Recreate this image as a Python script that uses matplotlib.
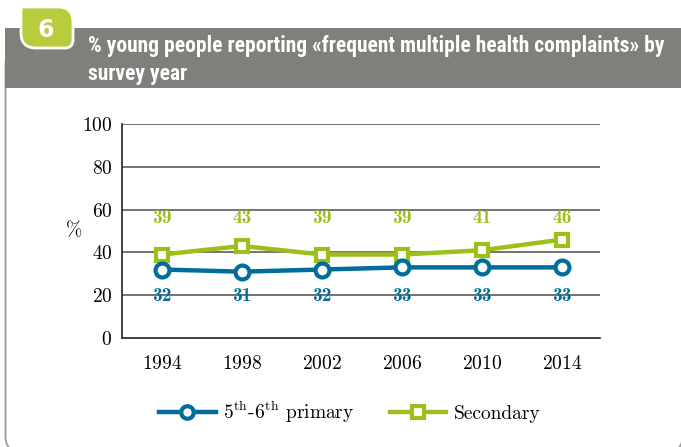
import matplotlib
matplotlib.use("Agg")
import matplotlib.pyplot as plt
from matplotlib.patches import FancyBboxPatch, Rectangle, PathPatch
from matplotlib.path import Path

YEARS = [1994, 1998, 2002, 2006, 2010, 2014]
PRIMARY = [32, 31, 32, 33, 33, 33]
SECONDARY = [39, 43, 39, 39, 41, 46]
Y_TICKS = [0, 20, 40, 60, 80, 100]

BLUE = "#006d9b"
GREEN = "#9cbf1c"
TAB_GREEN = "#b9cc3e"
HEADER = "#7f807b"

plt.rcParams["font.family"] = ["cmr10", "DejaVu Serif"]
plt.rcParams["axes.formatter.use_mathtext"] = True
plt.rcParams["mathtext.fontset"] = "cm"

W, H = 681, 447
fig = plt.figure(figsize=(W / 100, H / 100), dpi=100)

# background layer in pixel units (y down)
bg = fig.add_axes([0, 0, 1, 1], zorder=0)
bg.set_xlim(0, W)
bg.set_ylim(H, 0)
bg.axis("off")

# card body with rounded bottom corners
bg.add_patch(FancyBboxPatch((5.5, 50), 677, 401, boxstyle="round,pad=0,rounding_size=14",
                            facecolor="white", edgecolor="#9a9a9a", linewidth=1.3, zorder=0))
# header band
bg.add_patch(Rectangle((5, 28), 676, 60, facecolor=HEADER, edgecolor="none", zorder=1))

# number tab
x0, x1, y0, y1 = 21, 73, 7, 48
verts = [(x0, y0), (x1 - 15, y0), (x1, y0), (x1, y0 + 15), (x1, y1 - 8), (x1, y1), (x1 - 8, y1),
         (x0 + 15, y1), (x0, y1), (x0, y1 - 15), (x0, y0)]
codes = [Path.MOVETO, Path.LINETO, Path.CURVE3, Path.CURVE3, Path.LINETO, Path.CURVE3,
         Path.CURVE3, Path.LINETO, Path.CURVE3, Path.CURVE3, Path.CLOSEPOLY]
bg.add_patch(PathPatch(Path(verts, codes), facecolor=TAB_GREEN, edgecolor="white",
                       linewidth=2, zorder=2))
bg.text(46, 30, "6", color="white", fontsize=17, fontweight="bold",
        family="DejaVu Sans", ha="center", va="center", zorder=3)

title_font = ["Roboto Condensed", "Roboto", "DejaVu Sans"]
bg.text(88, 46, "% young people reporting «frequent multiple health complaints» by",
        color="white", fontsize=15.5, fontweight="bold", family=title_font,
        ha="left", va="center", zorder=3)
bg.text(88, 74, "survey year", color="white", fontsize=15.5, fontweight="bold",
        family=title_font, ha="left", va="center", zorder=3)

# chart
ax = fig.add_axes([122 / W, 1 - 338 / H, (600 - 122) / W, (338 - 124) / H], zorder=2)
ax.patch.set_visible(False)
ax.set_xlim(1992, 2015.9)
ax.set_ylim(0, 100)
ax.set_yticks(Y_TICKS)
ax.set_xticks(YEARS)
ax.tick_params(length=0, labelsize=14, pad=7)
ax.tick_params(axis="x", pad=12)
for s in ["top", "right"]:
    ax.spines[s].set_visible(False)
for s in ["left", "bottom"]:
    ax.spines[s].set_color("#222222")
    ax.spines[s].set_linewidth(1.2)
for t in Y_TICKS[1:]:
    ax.axhline(t, color="#4d4d4d", linewidth=1.1, zorder=1)
ax.set_ylabel("%", fontsize=14, rotation=0, labelpad=6, va="center")

ax.plot(YEARS, SECONDARY, color=GREEN, linewidth=3.2, marker="s", markersize=9,
        markerfacecolor="white", markeredgecolor=GREEN, markeredgewidth=3,
        label="Secondary", zorder=3, clip_on=False)
ax.plot(YEARS, PRIMARY, color=BLUE, linewidth=3.2, marker="o", markersize=10,
        markerfacecolor="white", markeredgecolor=BLUE, markeredgewidth=3,
        label=r"5$^{\mathrm{th}}$-6$^{\mathrm{th}}$ primary", zorder=4, clip_on=False)

for x, v in zip(YEARS, SECONDARY):
    ax.text(x, 56, f"{v}", color=GREEN, fontsize=14, family=["cmb10", "DejaVu Serif"],
            ha="center", va="center")
for x, v in zip(YEARS, PRIMARY):
    ax.text(x, 19.5, f"{v}", color=BLUE, fontsize=14, family=["cmb10", "DejaVu Serif"],
            ha="center", va="center")

handles, labels = ax.get_legend_handles_labels()
leg = fig.legend(handles[::-1], labels[::-1], loc="center",
                 bbox_to_anchor=(350 / W, 1 - 412 / H), ncol=2, frameon=False, fontsize=14,
                 handlelength=2.9, columnspacing=1.8, handletextpad=0.4, markerscale=0.9)

fig.savefig("out.png", dpi=100)
